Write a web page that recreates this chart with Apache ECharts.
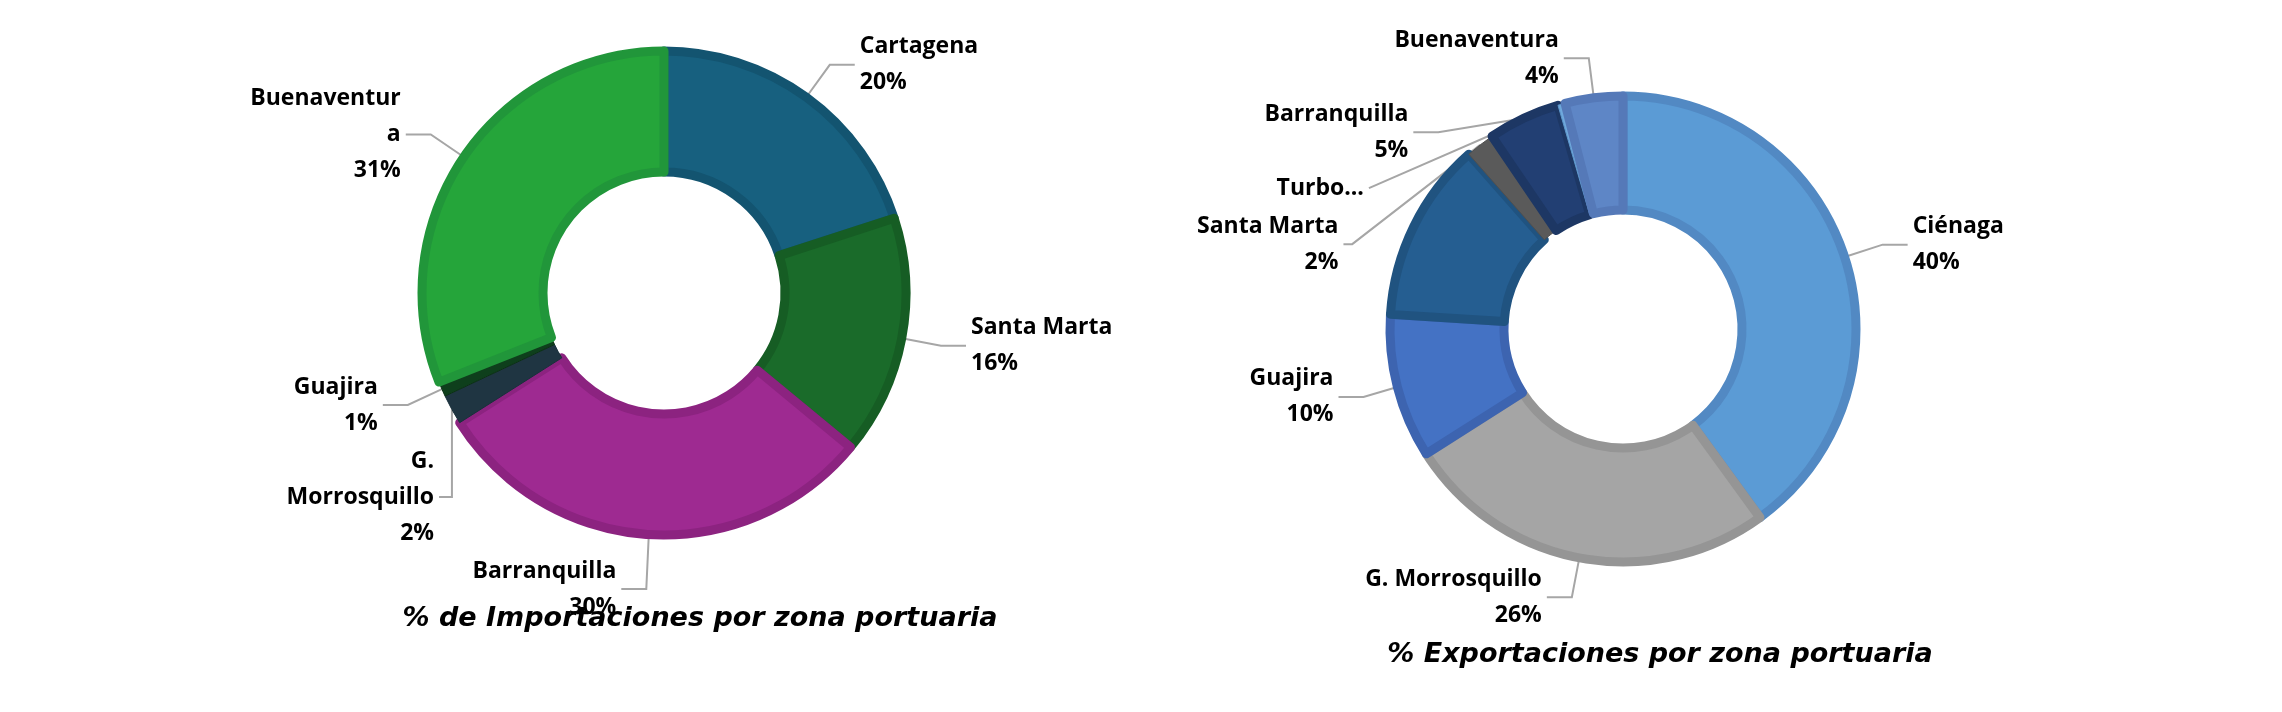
<!DOCTYPE html>
<html><head><meta charset="utf-8">
<script src="https://cdn.jsdelivr.net/npm/echarts@6/dist/echarts.min.js"></script>
<style>html,body{margin:0;background:#fff}#c{width:2282px;height:712px}</style>
</head><body><div id="c"></div>
<script>
const impNames = ['Cartagena','Santa Marta','Barranquilla','G.\nMorrosquillo','Guajira','Buenaventur\na'];
const impValues = [20,16,30,2,1,31];
const impColors = ['#17607f','#1a6b2a','#9e2a91','#1f3542','#0e3f1c','#25a53a'];
const impBorders = ['#135470','#165d24','#8c2380','#19303b','#0a3014','#21963a'];
const expNames = ['Ciénaga','G. Morrosquillo','Guajira','Cartagena','Santa Marta','Barranquilla','Turbo...','Buenaventura'];
const expValues = [40,26,10,12.5,2,5,0.5,4];
const expColors = ['#5b9bd5','#a5a5a5','#4472c4','#255e91','#5a5a5a','#223f73','#6fa8dc','#5e86c6'];
const expBorders = ['#5289c3','#959595','#3d64b0','#205380','#4f4f4f','#1d3764','#5d97cc','#5579b8'];
const expHide = [false,false,false,true,false,false,false,false];

function mk(names, vals, cols, bords, hide){
  return names.map((n,i)=>({name:n,value:vals[i],
    itemStyle:{color:cols[i],borderColor:bords[i],borderWidth:n==='Turbo...'||vals[i]<=2?1:9},
    label:{show:!(hide&&hide[i])}, labelLine:{show:!(hide&&hide[i])}}));
}
const lab = {show:true,position:'outside',
  formatter:p=>p.name==='Turbo...'?p.name:p.name+'\n'+Math.round(p.value)+'%',
  fontFamily:'Open Sans, Noto Sans, sans-serif',fontWeight:'bold',fontSize:23,color:'#000',lineHeight:36,align:'center'};
const ll = {show:true,length:40,length2:25,lineStyle:{color:'#a6a6a6',width:2}};
const ts = {fontFamily:'DejaVu Sans, sans-serif',fontWeight:'bold',fontStyle:'italic',fontSize:27,color:'#000'};
const chart = echarts.init(document.getElementById('c'));
chart.setOption({
  animation:false,
  title:[
    {text:'% de Importaciones por zona portuaria',left:695,top:600,textAlign:'center',textStyle:ts},
    {text:'% Exportaciones por zona portuaria',left:1655,top:636,textAlign:'center',textStyle:ts}
  ],
  series:[
    {type:'pie',center:[664,293],radius:[121,242],startAngle:90,label:lab,labelLine:ll,
     data:mk(impNames,impValues,impColors,impBorders)},
    {type:'pie',center:[1623,329],radius:[119,233],startAngle:90,label:lab,labelLine:ll,
     avoidLabelOverlap:true,data:mk(expNames,expValues,expColors,expBorders,expHide)}
  ]
});
</script></body></html>
